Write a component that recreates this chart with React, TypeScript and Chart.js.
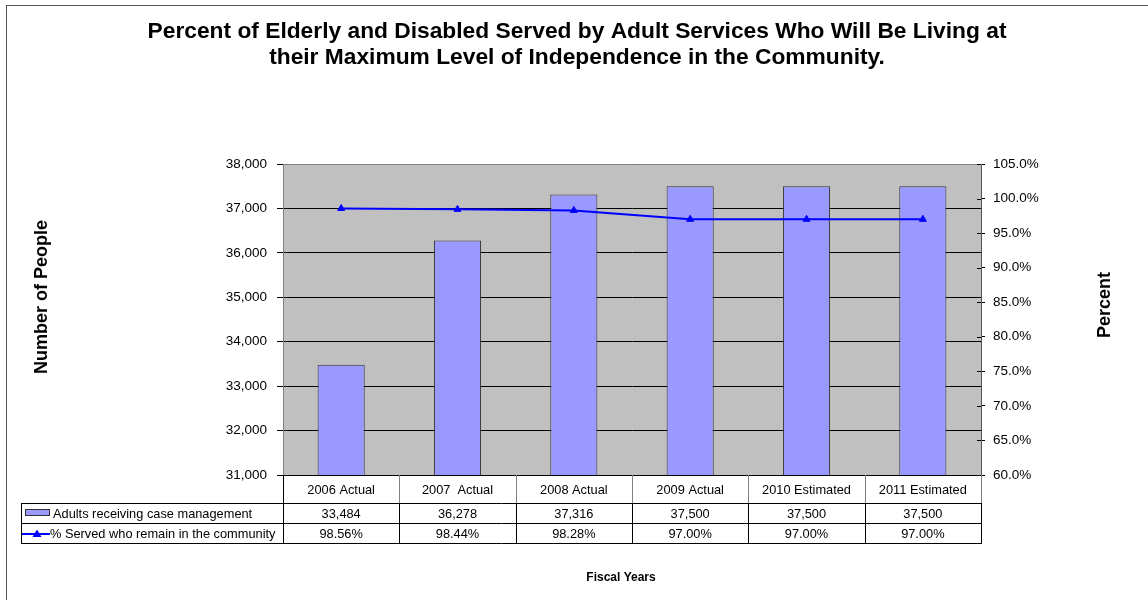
import React, { useEffect, useRef } from 'react';
import { Chart, registerables } from 'chart.js';

Chart.register(...registerables);

const categories = ['2006 Actual', '2007  Actual', '2008 Actual', '2009 Actual', '2010 Estimated', '2011 Estimated'];
const adultsServed = [33484, 36278, 37316, 37500, 37500, 37500];
const percentInCommunity = [98.56, 98.44, 98.28, 97.0, 97.0, 97.0];
const seriesNames = ['Adults receiving case management', '% Served who remain in the community'];
const titleLines = [
  'Percent of Elderly and Disabled Served by Adult Services Who Will Be Living at',
  'their Maximum Level of Independence in the Community.',
];
const leftAxisTitle = 'Number of People';
const rightAxisTitle = 'Percent';
const xAxisTitle = 'Fiscal Years';
const leftAxisRange = [31000, 38000, 1000];
const rightAxisRange = [60, 105, 5];

const FONT = "'Liberation Sans', Arial, Helvetica, sans-serif";
const BAR_FILL = '#9999FF';
const BAR_EDGE = '#333333';
const LINE_BLUE = '#0000FF';

function hLine(ctx: CanvasRenderingContext2D, x1: number, x2: number, y: number, color: string) {
  ctx.strokeStyle = color;
  ctx.lineWidth = 1;
  ctx.beginPath();
  ctx.moveTo(x1, Math.round(y) + 0.5);
  ctx.lineTo(x2, Math.round(y) + 0.5);
  ctx.stroke();
}
function vLine(ctx: CanvasRenderingContext2D, x: number, y1: number, y2: number, color: string) {
  ctx.strokeStyle = color;
  ctx.lineWidth = 1;
  ctx.beginPath();
  ctx.moveTo(Math.round(x) + 0.5, y1);
  ctx.lineTo(Math.round(x) + 0.5, y2);
  ctx.stroke();
}

const decorPlugin = {
  id: 'decor',
  beforeDraw(chart: any) {
    const { ctx, chartArea } = chart;
    ctx.save();
    ctx.fillStyle = '#FFFFFF';
    ctx.fillRect(0, 0, chart.width, chart.height);
    // outer frame
    ctx.strokeStyle = '#555555';
    ctx.lineWidth = 1;
    ctx.strokeRect(6.5, 5.5, 1300, 800);
    // plot background
    ctx.fillStyle = '#C0C0C0';
    ctx.fillRect(chartArea.left, chartArea.top, chartArea.right - chartArea.left, chartArea.bottom - chartArea.top);
    ctx.restore();
  },
  afterDraw(chart: any) {
    const { ctx, chartArea } = chart;
    const xs = chart.scales.x;
    const y1 = chart.scales.y1;
    ctx.save();

    // top border of plot area
    hLine(ctx, chartArea.left, chartArea.right + 1, chartArea.top, '#808080');

    // inner half of right axis tick marks
    y1.ticks.forEach((t: any) => {
      const py = Math.round(y1.getPixelForValue(t.value)) + 0.5;
      ctx.strokeStyle = '#000';
      ctx.beginPath();
      ctx.moveTo(chartArea.right - 4, py);
      ctx.lineTo(chartArea.right, py);
      ctx.stroke();
    });

    // Title
    ctx.fillStyle = '#000';
    ctx.textAlign = 'center';
    ctx.textBaseline = 'middle';
    ctx.font = `bold 22px ${FONT}`;
    ctx.save();
    ctx.translate(577, 0);
    ctx.scale(1.035, 1);
    ctx.fillText(titleLines[0], 0, 32);
    ctx.fillText(titleLines[1], 0, 58);
    ctx.restore();

    // axis titles
    ctx.font = `bold 18px ${FONT}`;
    ctx.save();
    ctx.translate(42, 297);
    ctx.rotate(-Math.PI / 2);
    ctx.fillText(leftAxisTitle, 0, 0);
    ctx.restore();
    ctx.save();
    ctx.translate(1105, 305);
    ctx.rotate(-Math.PI / 2);
    ctx.fillText(rightAxisTitle, 0, 0);
    ctx.restore();
    ctx.font = `bold 12px ${FONT}`;
    ctx.fillText(xAxisTitle, 621, 578);

    // Data table
    const n = categories.length;
    const right = chartArea.right;
    const half = (xs.getPixelForValue(1) - xs.getPixelForValue(0)) / 2;
    const bounds: number[] = [];
    for (let i = 0; i < n; i++) bounds.push(xs.getPixelForValue(i) - half);
    bounds.push(xs.getPixelForValue(n - 1) + half);
    const headTop = chartArea.bottom;
    const headBottom = 503;
    const row1Bottom = 523;
    const row2Bottom = 543;
    const legendLeft = 21;

    // header verticals (grey)
    for (let i = 1; i < bounds.length; i++) vLine(ctx, bounds[i], headTop, headBottom, '#808080');
    vLine(ctx, chartArea.left, headTop, row2Bottom + 1, '#000');
    // row lines
    hLine(ctx, legendLeft, right + 1, headBottom, '#000');
    hLine(ctx, legendLeft, right + 1, row1Bottom, '#000');
    hLine(ctx, legendLeft, right + 1, row2Bottom, '#000');
    vLine(ctx, legendLeft, headBottom, row2Bottom + 1, '#000');
    for (let i = 1; i < bounds.length; i++) vLine(ctx, bounds[i], headBottom, row2Bottom + 1, '#000');

    ctx.font = `12.8px ${FONT}`;
    ctx.textAlign = 'center';
    ctx.textBaseline = 'middle';
    ctx.fillStyle = '#000';
    for (let i = 0; i < n; i++) {
      const cx = xs.getPixelForValue(i);
      ctx.fillText(categories[i], cx, (headTop + headBottom) / 2 + 1);
      ctx.fillText(adultsServed[i].toLocaleString('en-US'), cx, (headBottom + row1Bottom) / 2 + 1);
      ctx.fillText(percentInCommunity[i].toFixed(2) + '%', cx, (row1Bottom + row2Bottom) / 2 + 1);
    }
    // legend keys
    ctx.textAlign = 'left';
    ctx.fillText(seriesNames[0], 53, (headBottom + row1Bottom) / 2 + 1);
    ctx.fillText(seriesNames[1], 50, (row1Bottom + row2Bottom) / 2 + 1);
    ctx.fillStyle = BAR_FILL;
    ctx.fillRect(25.5, 509.5, 24, 6);
    ctx.strokeStyle = BAR_EDGE;
    ctx.lineWidth = 1;
    ctx.strokeRect(25.5, 509.5, 24, 6);
    const ly = (row1Bottom + row2Bottom) / 2 + 1;
    ctx.strokeStyle = LINE_BLUE;
    ctx.lineWidth = 2;
    ctx.beginPath();
    ctx.moveTo(22, ly);
    ctx.lineTo(50, ly);
    ctx.stroke();
    ctx.fillStyle = LINE_BLUE;
    ctx.beginPath();
    ctx.moveTo(37, ly - 4.5);
    ctx.lineTo(41.5, ly + 3);
    ctx.lineTo(32.5, ly + 3);
    ctx.closePath();
    ctx.fill();

    ctx.restore();
  },
};

export default function App() {
  const canvasRef = useRef<HTMLCanvasElement | null>(null);

  useEffect(() => {
    document.body.style.margin = '0';
    const canvas = canvasRef.current;
    if (!canvas) return;
    const chart = new Chart(canvas, {
      type: 'bar',
      data: {
        labels: categories,
        datasets: [
          {
            type: 'line',
            label: seriesNames[1],
            data: percentInCommunity,
            yAxisID: 'y1',
            borderColor: LINE_BLUE,
            backgroundColor: LINE_BLUE,
            borderWidth: 2,
            pointStyle: 'triangle',
            pointRadius: 4,
            pointBorderWidth: 1,
            tension: 0,
            order: 1,
          } as any,
          {
            type: 'bar',
            label: seriesNames[0],
            data: adultsServed,
            yAxisID: 'y',
            backgroundColor: BAR_FILL,
            borderColor: BAR_EDGE,
            borderWidth: 1,
            barPercentage: 0.405,
            categoryPercentage: 1,
            order: 2,
          } as any,
        ],
      },
      options: {
        responsive: false,
        animation: false,
        devicePixelRatio: 1,
        layout: { padding: { top: 164, bottom: 125, left: 0, right: 0 } },
        plugins: {
          legend: { display: false },
          tooltip: { enabled: false },
          title: { display: false },
        },
        scales: {
          x: { display: false, offset: true },
          y: {
            position: 'left',
            min: leftAxisRange[0],
            max: leftAxisRange[1],
            ticks: {
              stepSize: leftAxisRange[2],
              color: '#000',
              padding: 10,
              font: { family: FONT, size: 13.5 },
              callback: (v: any) => Number(v).toLocaleString('en-US'),
            },
            grid: { color: '#000', lineWidth: 1, tickLength: 6, tickColor: '#000' },
            border: { display: true, color: '#808080', width: 1 },
            afterFit: (s: any) => {
              s.width = 283;
            },
          },
          y1: {
            position: 'right',
            min: rightAxisRange[0],
            max: rightAxisRange[1],
            ticks: {
              stepSize: rightAxisRange[2],
              color: '#000',
              padding: 8,
              font: { family: FONT, size: 13.5 },
              callback: (v: any) => Number(v).toFixed(1) + '%',
            },
            grid: { drawOnChartArea: false, tickLength: 4, color: '#000' },
            border: { display: true, color: '#555555', width: 1 },
            afterFit: (s: any) => {
              s.width = 167;
            },
          },
        },
      },
      plugins: [decorPlugin],
    });
    return () => chart.destroy();
  }, []);

  return <canvas ref={canvasRef} width={1148} height={600} style={{ display: 'block', width: 1148, height: 600 }} />;
}
